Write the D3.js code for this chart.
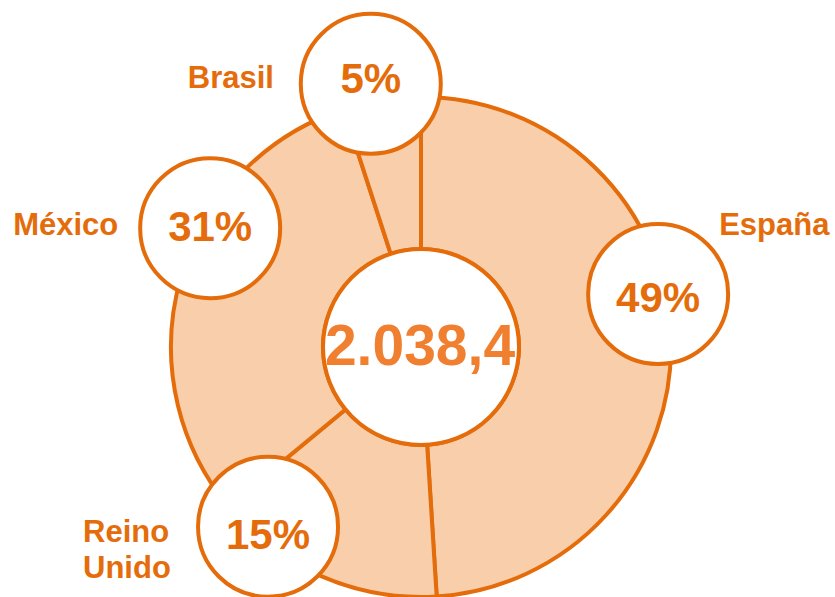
<!DOCTYPE html>
<html>
<head>
<meta charset="utf-8">
<script src="https://cdn.jsdelivr.net/npm/d3@7"></script>
<style>
  body { margin: 0; background: #fff; }
  svg { display: block; font-family: "Liberation Sans", Arial, sans-serif; font-weight: bold; }
</style>
</head>
<body>
<svg id="chart"></svg>
<script>
// data
var countries = ["España", "Reino Unido", "México", "Brasil"];
var shares = [49, 15, 31, 5];
var total = "2.038,4";

var width = 835, height = 597;
var cx = 421, cy = 347;
var outerR = 250, innerR = 98, bubbleR = 70;
var stroke = "#E46C0A", ringFill = "#F9CEAA";

// where each bubble sits (angle in degrees from top, distance from centre),
// baseline of the percentage inside it, and where its country name goes
var bubbleAt = [
    {angle: 77.4, dist: 243, ty: 18, lx: 61, ly: -59},
    {angle: 220.4, dist: 236, ty: 22, lx: -185, ly: 15},
    {angle: 299.4, dist: 242, ty: 13, lx: -197, ly: 7},
    {angle: 349.2, dist: 268, ty: 9, lx: -183, ly: 4}
];

var datum = countries.map(function(c, i) { return {name: c, value: shares[i]}; });

var svg = d3.select("#chart")
    .attr("width", width)
    .attr("height", height);

var g = svg.append("g")
    .attr("transform", "translate(" + cx + "," + cy + ")");

var pie = d3.pie()
    .sort(null)
    .value(function(d) { return d.value; });

var arc = d3.arc()
    .innerRadius(innerR)
    .outerRadius(outerR);

// ring
g.selectAll(".slice")
    .data(pie(datum))
    .enter().append("path")
    .attr("class", "slice")
    .attr("d", arc)
    .style("fill", ringFill)
    .style("stroke", stroke)
    .style("stroke-width", 4)
    .style("stroke-linejoin", "round");

// centre
g.append("circle")
    .attr("r", innerR)
    .style("fill", "#fff")
    .style("stroke", stroke)
    .style("stroke-width", 4);

g.append("text")
    .attr("x", -1)
    .attr("y", 18)
    .attr("text-anchor", "middle")
    .style("font-size", "57px")
    .style("fill", "#F07F30")
    .text(total);

// bubbles
var bubbles = g.selectAll(".bubble")
    .data(datum)
    .enter().append("g")
    .attr("class", "bubble")
    .attr("transform", function(d, i) {
        var a = bubbleAt[i].angle * Math.PI / 180;
        var x = bubbleAt[i].dist * Math.sin(a);
        var y = -bubbleAt[i].dist * Math.cos(a);
        return "translate(" + x + "," + y + ")";
    });

bubbles.append("circle")
    .attr("r", bubbleR)
    .style("fill", "#fff")
    .style("stroke", stroke)
    .style("stroke-width", 4);

bubbles.append("text")
    .attr("y", function(d, i) { return bubbleAt[i].ty; })
    .attr("text-anchor", "middle")
    .style("font-size", "42px")
    .style("fill", stroke)
    .text(function(d) { return d.value + "%"; });

// country names
bubbles.append("text")
    .attr("x", function(d, i) { return bubbleAt[i].lx; })
    .attr("y", function(d, i) { return bubbleAt[i].ly; })
    .style("font-size", "31px")
    .style("fill", stroke)
    .each(function(d, i) {
        var words = d.name.split(" ");
        var t = d3.select(this);
        words.forEach(function(w, k) {
            t.append("tspan")
                .attr("x", bubbleAt[i].lx)
                .attr("dy", k == 0 ? 0 : 36)
                .text(w);
        });
    });
</script>
</body>
</html>
